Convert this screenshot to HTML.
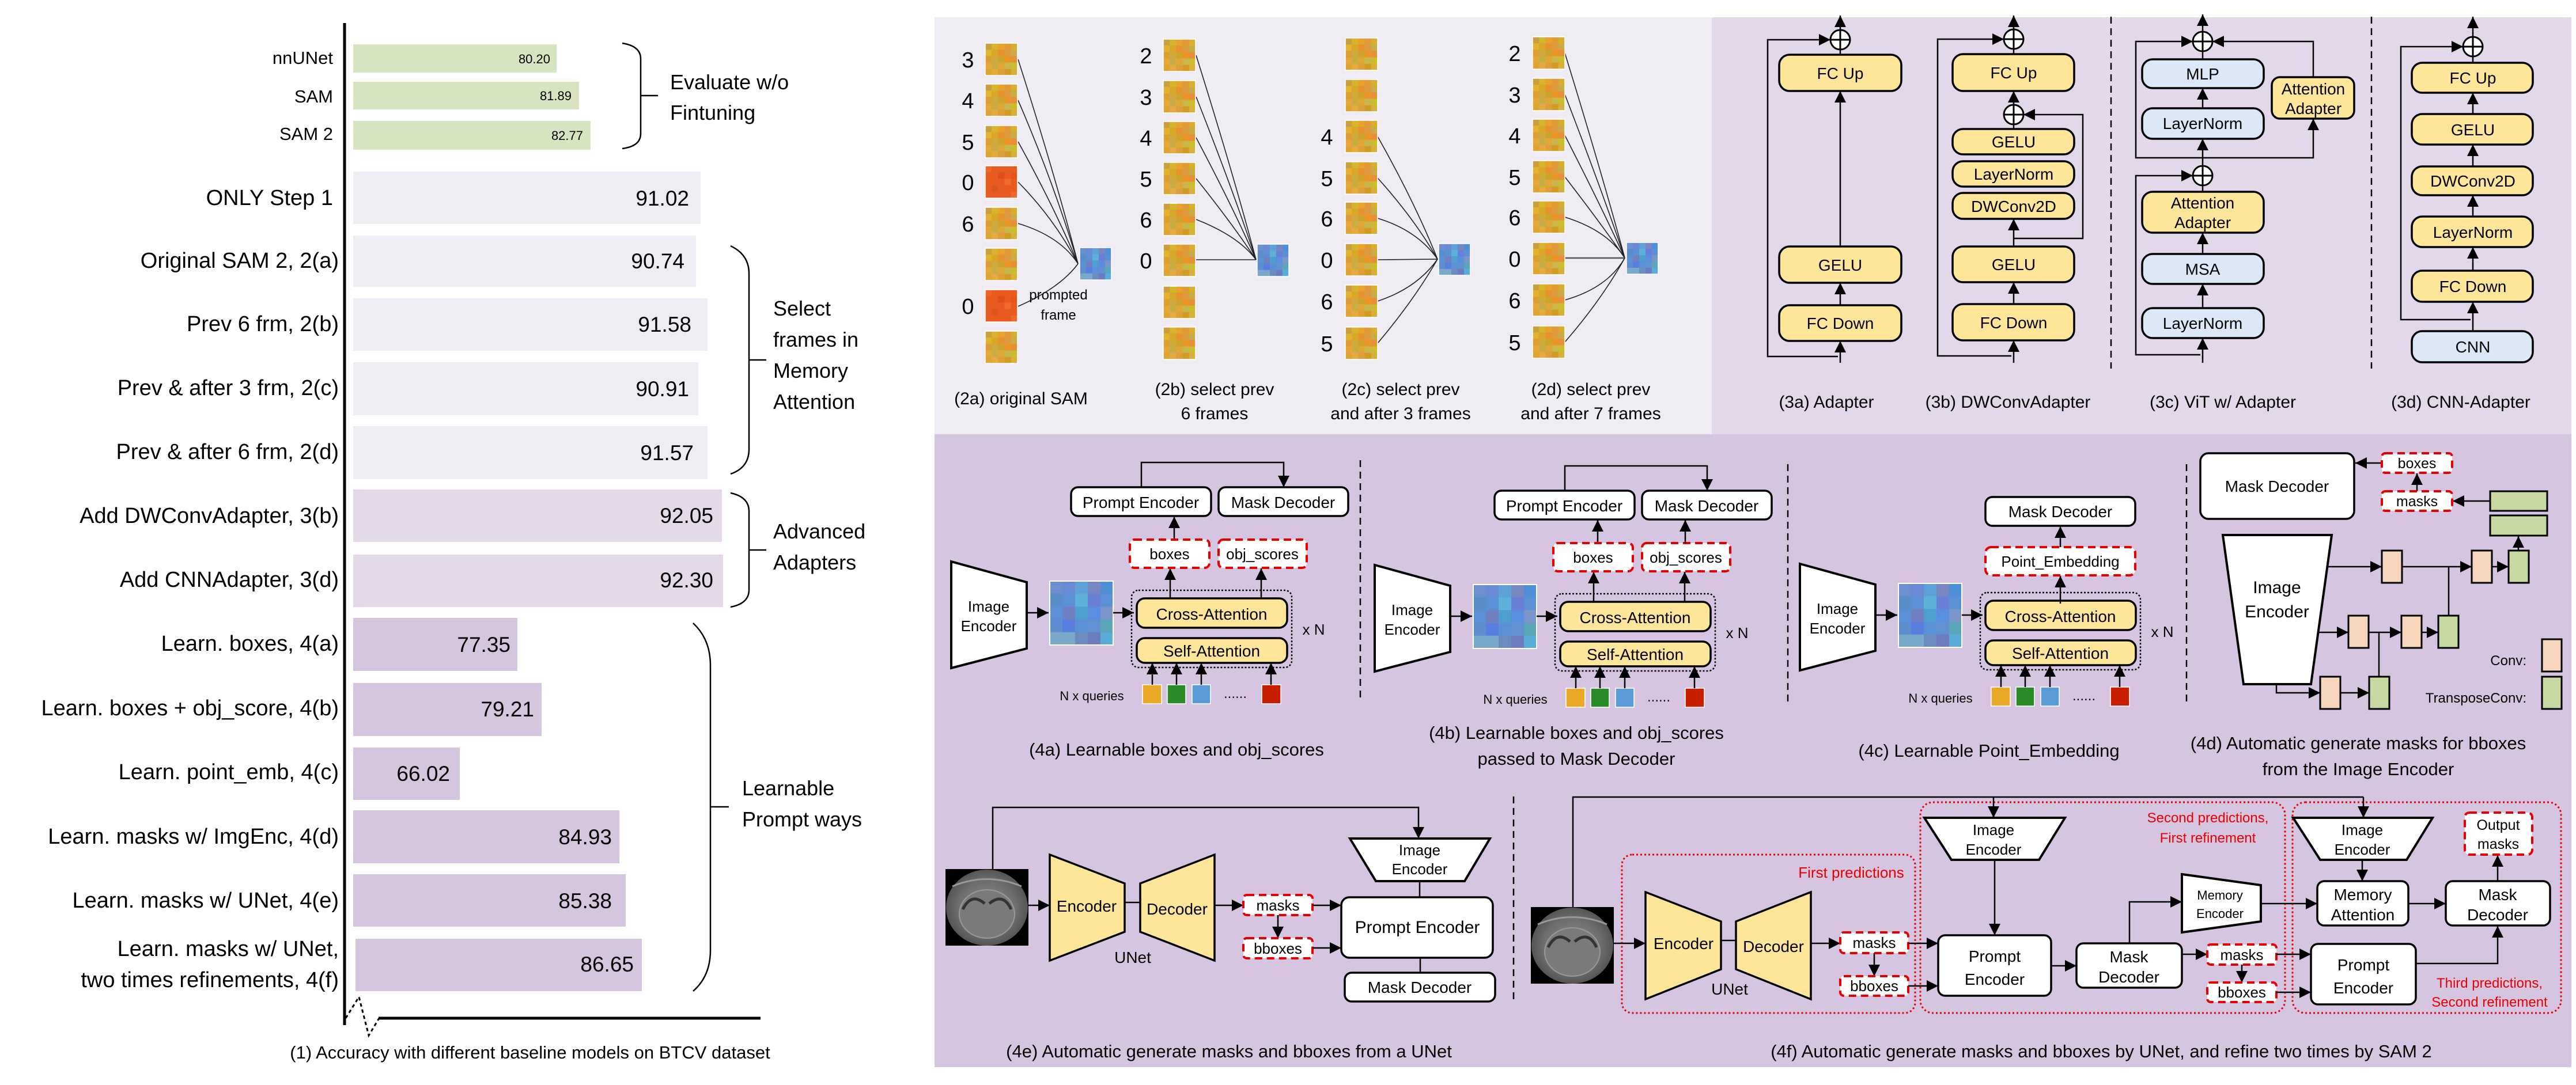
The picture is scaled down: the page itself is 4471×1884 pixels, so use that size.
<!DOCTYPE html>
<html><head><meta charset="utf-8"><style>
html,body{margin:0;padding:0;background:#fff}
svg{display:block}
text{font-family:"Liberation Sans",sans-serif;fill:#000}
.y{fill:#fde59a;stroke:#000;stroke-width:3.5}
.b{fill:#dce8f8;stroke:#000;stroke-width:3.5}
.w{fill:#fff;stroke:#000;stroke-width:3.5}
.d{fill:#fff;stroke:#e60000;stroke-width:4;stroke-dasharray:13 8}
.l{stroke:#000;stroke-width:2.5;fill:none}
.la{stroke:#000;stroke-width:2.5;fill:none;marker-end:url(#ar)}
.th{stroke:#222;stroke-width:1.6;fill:none}
.rb{fill:none;stroke:#e60000;stroke-width:3;stroke-dasharray:3 4}
.cv{fill:#f8d6bb;stroke:#000;stroke-width:3}
.tc{fill:#c7d7a1;stroke:#000;stroke-width:3}
</style></head><body>
<svg width="4471" height="1884" viewBox="0 0 4471 1884" xmlns="http://www.w3.org/2000/svg">
<defs>
<marker id="ar" markerUnits="userSpaceOnUse" markerWidth="20" markerHeight="20" viewBox="0 0 10 10" refX="10" refY="5" orient="auto"><path d="M0,0 L10,5 L0,10 z" fill="#000"/></marker>
<pattern id="or" width="1" height="1" patternContentUnits="objectBoundingBox">
<rect width="1" height="1" fill="#dfa733"/>
<rect x="0" y="0" width=".2" height=".2" fill="#c9a040"/><rect x=".2" y="0" width=".2" height=".2" fill="#d4b52c"/><rect x=".4" y="0" width=".2" height=".2" fill="#eaa22f"/><rect x=".6" y="0" width=".2" height=".2" fill="#e19a38"/><rect x=".8" y="0" width=".2" height=".2" fill="#d8ae2e"/>
<rect x="0" y=".2" width=".2" height=".2" fill="#e3b230"/><rect x=".2" y=".2" width=".2" height=".2" fill="#d9a826"/><rect x=".4" y=".2" width=".2" height=".2" fill="#e8922f"/><rect x=".6" y=".2" width=".2" height=".2" fill="#dd9a3f"/><rect x=".8" y=".2" width=".2" height=".2" fill="#c9ab48"/>
<rect x="0" y=".4" width=".2" height=".2" fill="#dc9e35"/><rect x=".2" y=".4" width=".2" height=".2" fill="#cfaa3c"/><rect x=".4" y=".4" width=".2" height=".2" fill="#cfa42c"/><rect x=".6" y=".4" width=".2" height=".2" fill="#ec9426"/><rect x=".8" y=".4" width=".2" height=".2" fill="#e6913a"/>
<rect x="0" y=".6" width=".2" height=".2" fill="#e7a737"/><rect x=".2" y=".6" width=".2" height=".2" fill="#c8ad47"/><rect x=".4" y=".6" width=".2" height=".2" fill="#dfa736"/><rect x=".6" y=".6" width=".2" height=".2" fill="#c7b74c"/><rect x=".8" y=".6" width=".2" height=".2" fill="#cbbd2b"/>
<rect x="0" y=".8" width=".2" height=".2" fill="#dda633"/><rect x=".2" y=".8" width=".2" height=".2" fill="#e6aa3e"/><rect x=".4" y=".8" width=".2" height=".2" fill="#dc9f3c"/><rect x=".6" y=".8" width=".2" height=".2" fill="#d29b23"/><rect x=".8" y=".8" width=".2" height=".2" fill="#d6b03c"/>
</pattern>
<pattern id="rd" width="1" height="1" patternContentUnits="objectBoundingBox">
<rect width="1" height="1" fill="#e85a20"/>
<rect x="0" y="0" width=".2" height=".2" fill="#ef6524"/><rect x=".4" y=".2" width=".2" height=".2" fill="#e04c1a"/><rect x=".6" y=".4" width=".2" height=".2" fill="#f06a2a"/><rect x=".2" y=".6" width=".2" height=".2" fill="#dc5520"/><rect x=".8" y=".8" width=".2" height=".2" fill="#ee6a2c"/><rect x=".8" y=".2" width=".2" height=".2" fill="#e4541c"/>
</pattern>
<pattern id="bl" width="1" height="1" patternContentUnits="objectBoundingBox">
<rect width="1" height="1" fill="#5b8fd6"/>
<rect x="0" y="0" width=".2" height=".2" fill="#6d8fd0"/><rect x=".2" y="0" width=".2" height=".2" fill="#6a8ad6"/><rect x=".4" y="0" width=".2" height=".2" fill="#5ea0d8"/><rect x=".6" y="0" width=".2" height=".2" fill="#7788c0"/><rect x=".8" y="0" width=".2" height=".2" fill="#4e8fd8"/>
<rect x="0" y=".2" width=".2" height=".2" fill="#5a8ec9"/><rect x=".4" y=".2" width=".2" height=".2" fill="#5eb0d8"/><rect x=".6" y=".2" width=".2" height=".2" fill="#6a80d8"/>
<rect x=".2" y=".4" width=".2" height=".2" fill="#7080c0"/><rect x=".4" y=".4" width=".2" height=".2" fill="#4f9ed0"/><rect x=".6" y=".4" width=".2" height=".2" fill="#5b8ee0"/><rect x=".8" y=".4" width=".2" height=".2" fill="#7b95c8"/>
<rect x="0" y=".6" width=".2" height=".2" fill="#5f8ed0"/><rect x=".2" y=".6" width=".2" height=".2" fill="#5a7ee0"/><rect x=".6" y=".6" width=".2" height=".2" fill="#6290d0"/><rect x=".8" y=".6" width=".2" height=".2" fill="#5aa6b8"/>
<rect x="0" y=".8" width=".2" height=".2" fill="#7aa8c8"/><rect x=".2" y=".8" width=".2" height=".2" fill="#7aa8c8"/><rect x=".4" y=".8" width=".2" height=".2" fill="#6c8cc0"/><rect x=".6" y=".8" width=".2" height=".2" fill="#6c7cc0"/><rect x=".8" y=".8" width=".2" height=".2" fill="#58acd8"/>
</pattern>
<radialGradient id="ct" cx=".5" cy=".5" r=".5"><stop offset="0" stop-color="#8a8a8a"/><stop offset=".7" stop-color="#6e6e6e"/><stop offset="1" stop-color="#555"/></radialGradient>
<g id="ctimg">
<rect x="0" y="0" width="144" height="133" fill="#000"/>
<ellipse cx="72" cy="67" rx="71" ry="66" fill="url(#ct)"/>
<ellipse cx="72" cy="78" rx="48" ry="42" fill="#7a7a7a" stroke="#999" stroke-width="2"/>
<path d="M30,70 Q45,40 68,60 M76,60 Q100,40 114,70" stroke="#333" stroke-width="5" fill="none"/>
<path d="M12,30 Q72,5 132,30" stroke="#999" stroke-width="3" fill="none"/>
</g>
</defs>

<!-- ============ LEFT CHART ============ -->
<rect x="613" y="77" width="353" height="49" fill="#d6e4bf"/>
<rect x="613" y="142" width="392" height="48" fill="#d6e4bf"/>
<rect x="613" y="210" width="412" height="50" fill="#d6e4bf"/>
<rect x="613" y="298" width="603" height="91" fill="#efedf4"/>
<rect x="613" y="409" width="595" height="89" fill="#efedf4"/>
<rect x="613" y="518" width="615" height="91" fill="#efedf4"/>
<rect x="613" y="629" width="599" height="92" fill="#efedf4"/>
<rect x="613" y="740" width="615" height="92" fill="#efedf4"/>
<rect x="613" y="850" width="640" height="91" fill="#e4d9e9"/>
<rect x="613" y="963" width="642" height="91" fill="#e4d9e9"/>
<rect x="613" y="1073" width="285" height="92" fill="#d5c5df"/>
<rect x="613" y="1186" width="327" height="92" fill="#d5c5df"/>
<rect x="613" y="1298" width="185" height="91" fill="#d5c5df"/>
<rect x="613" y="1407" width="462" height="92" fill="#d5c5df"/>
<rect x="613" y="1518" width="473" height="91" fill="#d5c5df"/>
<rect x="617" y="1630" width="497" height="91" fill="#d5c5df"/>

<g font-size="22" text-anchor="end">
<text x="955" y="110">80.20</text><text x="992" y="174">81.89</text><text x="1012" y="243">82.77</text>
</g>
<g font-size="37" text-anchor="end">
<text x="1196" y="357">91.02</text><text x="1188" y="466">90.74</text><text x="1200" y="576">91.58</text>
<text x="1196" y="688">90.91</text><text x="1204" y="799">91.57</text><text x="1238" y="908">92.05</text>
<text x="1238" y="1020">92.30</text><text x="886" y="1132">77.35</text><text x="927" y="1244">79.21</text>
<text x="781" y="1356">66.02</text><text x="1062" y="1466">84.93</text><text x="1062" y="1577">85.38</text>
<text x="1100" y="1687">86.65</text>
</g>
<g font-size="31" text-anchor="end">
<text x="578" y="111">nnUNet</text><text x="578" y="178">SAM</text><text x="578" y="243">SAM 2</text>
</g>
<g font-size="38" text-anchor="end">
<text x="578" y="356">ONLY Step 1</text>
<text x="588" y="465">Original SAM 2, 2(a)</text>
<text x="588" y="575">Prev 6 frm, 2(b)</text>
<text x="588" y="686">Prev &amp; after 3 frm, 2(c)</text>
<text x="588" y="797">Prev &amp; after 6 frm, 2(d)</text>
<text x="588" y="908">Add DWConvAdapter, 3(b)</text>
<text x="588" y="1019">Add CNNAdapter, 3(d)</text>
<text x="588" y="1130">Learn. boxes, 4(a)</text>
<text x="588" y="1242">Learn. boxes + obj_score, 4(b)</text>
<text x="588" y="1353">Learn. point_emb, 4(c)</text>
<text x="588" y="1465">Learn. masks w/ ImgEnc, 4(d)</text>
<text x="588" y="1576">Learn. masks w/ UNet, 4(e)</text>
<text x="588" y="1660">Learn. masks w/ UNet,</text>
<text x="588" y="1714">two times refinements, 4(f)</text>
</g>
<line x1="598" y1="40" x2="598" y2="1780" stroke="#000" stroke-width="5"/>
<line x1="657" y1="1768" x2="1320" y2="1768" stroke="#000" stroke-width="5"/>
<polyline points="600,1768 623,1731 640,1798 658,1768" fill="none" stroke="#000" stroke-width="3" stroke-dasharray="6 5"/>
<g fill="none" stroke="#000" stroke-width="2.5">
<path d="M1080,75 Q1112,80 1112,102 L1112,232 Q1112,254 1080,258 M1112,166 L1142,166"/>
<path d="M1268,427 Q1300,442 1300,475 L1300,780 Q1300,812 1268,823 M1300,625 L1330,625"/>
<path d="M1268,856 Q1300,863 1300,888 L1300,1024 Q1300,1048 1268,1054 M1300,955 L1330,955"/>
<path d="M1203,1082 Q1233,1110 1233,1155 L1233,1650 Q1233,1695 1203,1721 M1233,1401 L1265,1401"/>
</g>
<g font-size="36">
<text x="1163" y="155">Evaluate w/o</text><text x="1163" y="208">Fintuning</text>
<text x="1342" y="548">Select</text><text x="1342" y="602">frames in</text><text x="1342" y="656">Memory</text><text x="1342" y="710">Attention</text>
<text x="1342" y="935">Advanced</text><text x="1342" y="989">Adapters</text>
<text x="1288" y="1381">Learnable</text><text x="1288" y="1435">Prompt ways</text>
</g>
<text x="920" y="1838" font-size="31" text-anchor="middle">(1) Accuracy with different baseline models on BTCV dataset</text>

<!-- ============ PANEL BACKGROUNDS ============ -->
<rect x="1622" y="30" width="1350" height="724" fill="#efecf4"/>
<rect x="2971" y="30" width="1492" height="724" fill="#e3d8ea"/>
<rect x="1622" y="754" width="2841" height="1099" fill="#d6c5e0"/>

<!-- ============ PANEL 2 frames ============ -->
<g class="th">
<path d="M1767,103 Q1830,300 1871,458"/><path d="M1767,174 Q1830,320 1871,458"/><path d="M1767,246 Q1830,360 1871,458"/>
<path d="M1767,316 Q1830,380 1871,458"/><path d="M1767,388 Q1840,410 1871,458"/><path d="M1767,532 Q1840,500 1871,458"/>
<path d="M2076,96 Q2140,300 2180,451"/><path d="M2076,168 Q2140,330 2180,451"/><path d="M2076,239 Q2140,360 2180,451"/>
<path d="M2076,310 Q2140,390 2180,451"/><path d="M2076,381 Q2150,410 2180,451"/><path d="M2076,451 L2180,451"/>
<path d="M2391,237 Q2455,350 2495,450"/><path d="M2391,309 Q2455,380 2495,450"/><path d="M2391,379 Q2460,400 2495,450"/>
<path d="M2391,451 L2495,450"/><path d="M2391,523 Q2460,500 2495,450"/><path d="M2391,596 Q2455,520 2495,450"/>
<path d="M2716,92 Q2780,300 2820,448"/><path d="M2716,164 Q2780,330 2820,448"/><path d="M2716,235 Q2780,360 2820,448"/>
<path d="M2716,307 Q2780,390 2820,448"/><path d="M2716,377 Q2790,400 2820,448"/><path d="M2716,448 L2820,448" stroke-width="2.5" stroke="#555"/>
<path d="M2716,521 Q2790,500 2820,448"/><path d="M2716,594 Q2780,520 2820,448"/>
</g>
<g stroke="#fff" stroke-width="1.5">
<rect x="1710" y="75" width="56" height="56" fill="url(#or)"/><rect x="1710" y="146" width="56" height="56" fill="url(#or)"/>
<rect x="1710" y="218" width="56" height="56" fill="url(#or)"/><rect x="1710" y="288" width="56" height="56" fill="url(#rd)"/>
<rect x="1710" y="360" width="56" height="56" fill="url(#or)"/><rect x="1710" y="431" width="56" height="56" fill="url(#or)"/>
<rect x="1710" y="503" width="56" height="56" fill="url(#rd)"/><rect x="1710" y="575" width="56" height="56" fill="url(#or)"/>
<rect x="1874" y="430" width="55" height="56" fill="url(#bl)"/>
<rect x="2019" y="68" width="56" height="56" fill="url(#or)"/><rect x="2019" y="140" width="56" height="56" fill="url(#or)"/>
<rect x="2019" y="211" width="56" height="56" fill="url(#or)"/><rect x="2019" y="282" width="56" height="56" fill="url(#or)"/>
<rect x="2019" y="353" width="56" height="56" fill="url(#or)"/><rect x="2019" y="424" width="56" height="56" fill="url(#or)"/>
<rect x="2019" y="497" width="56" height="56" fill="url(#or)"/><rect x="2019" y="568" width="56" height="56" fill="url(#or)"/>
<rect x="2182" y="424" width="55" height="56" fill="url(#bl)"/>
<rect x="2335" y="66" width="56" height="56" fill="url(#or)"/><rect x="2335" y="138" width="56" height="56" fill="url(#or)"/>
<rect x="2335" y="209" width="56" height="56" fill="url(#or)"/><rect x="2335" y="281" width="56" height="56" fill="url(#or)"/>
<rect x="2335" y="351" width="56" height="56" fill="url(#or)"/><rect x="2335" y="423" width="56" height="56" fill="url(#or)"/>
<rect x="2335" y="495" width="56" height="56" fill="url(#or)"/><rect x="2335" y="568" width="56" height="56" fill="url(#or)"/>
<rect x="2497" y="423" width="55" height="55" fill="url(#bl)"/>
<rect x="2660" y="64" width="56" height="56" fill="url(#or)"/><rect x="2660" y="136" width="56" height="56" fill="url(#or)"/>
<rect x="2660" y="207" width="56" height="56" fill="url(#or)"/><rect x="2660" y="279" width="56" height="56" fill="url(#or)"/>
<rect x="2660" y="349" width="56" height="56" fill="url(#or)"/><rect x="2660" y="421" width="56" height="56" fill="url(#or)"/>
<rect x="2660" y="493" width="56" height="56" fill="url(#or)"/><rect x="2660" y="566" width="56" height="56" fill="url(#or)"/>
<rect x="2823" y="421" width="55" height="55" fill="url(#bl)"/>
</g>
<g font-size="38" text-anchor="middle">
<text x="1680" y="117">3</text><text x="1680" y="188">4</text><text x="1680" y="260">5</text><text x="1680" y="330">0</text><text x="1680" y="402">6</text><text x="1680" y="545">0</text>
<text x="1989" y="110">2</text><text x="1989" y="182">3</text><text x="1989" y="253">4</text><text x="1989" y="324">5</text><text x="1989" y="395">6</text><text x="1989" y="466">0</text>
<text x="2303" y="251">4</text><text x="2303" y="323">5</text><text x="2303" y="393">6</text><text x="2303" y="465">0</text><text x="2303" y="537">6</text><text x="2303" y="610">5</text>
<text x="2629" y="106">2</text><text x="2629" y="178">3</text><text x="2629" y="249">4</text><text x="2629" y="321">5</text><text x="2629" y="391">6</text><text x="2629" y="463">0</text><text x="2629" y="535">6</text><text x="2629" y="608">5</text>
</g>
<g font-size="24" text-anchor="middle"><text x="1837" y="520">prompted</text><text x="1837" y="555">frame</text></g>
<g font-size="30" text-anchor="middle">
<text x="1772" y="702">(2a) original SAM</text>
<text x="2108" y="686">(2b) select prev</text><text x="2108" y="728">6 frames</text>
<text x="2431" y="686">(2c) select prev</text><text x="2431" y="728">and after 3 frames</text>
<text x="2761" y="686">(2d) select prev</text><text x="2761" y="728">and after 7 frames</text>
</g>

<!-- ============ PANEL 3 adapters ============ -->
<g class="l" stroke-dasharray="12 8"><line x1="3664" y1="29" x2="3664" y2="640"/><line x1="4116" y1="29" x2="4116" y2="640"/></g>
<g>
<path class="la" d="M3194,52 L3194,27"/>
<path class="la" d="M3194,630 L3194,592"/>
<path class="la" d="M3194,530 L3194,491"/>
<path class="la" d="M3194,428 L3194,158"/>
<path class="l" d="M3194,95 L3194,86"/>
<path class="la" d="M3190,619 L3068,619 L3068,69 L3177,69"/>
<rect class="y" x="3088" y="95" width="212" height="63" rx="18"/>
<rect class="y" x="3088" y="428" width="212" height="63" rx="18"/>
<rect class="y" x="3088" y="530" width="212" height="62" rx="18"/>
<circle cx="3194" cy="69" r="17" fill="#fff" stroke="#000" stroke-width="3"/><path d="M3194,53V85M3178,69H3210" stroke="#000" stroke-width="3"/>
</g>
<g>
<path class="la" d="M3495,51 L3495,27"/>
<path class="la" d="M3495,630 L3495,591"/>
<path class="la" d="M3495,528 L3495,490"/>
<path class="la" d="M3495,428 L3495,380"/>
<path class="la" d="M3495,216 L3495,158"/>
<path class="l" d="M3495,94 L3495,85 M3495,224 L3495,216"/>
<path class="la" d="M3491,618 L3363,618 L3363,68 L3478,68"/>
<path class="la" d="M3495,414 L3615,414 L3615,199 L3512,199"/>
<rect class="y" x="3389" y="94" width="211" height="64" rx="18"/>
<rect class="y" x="3389" y="224" width="211" height="44" rx="18"/>
<rect class="y" x="3389" y="280" width="211" height="44" rx="18"/>
<rect class="y" x="3389" y="335" width="211" height="45" rx="18"/>
<rect class="y" x="3389" y="428" width="211" height="62" rx="18"/>
<rect class="y" x="3389" y="528" width="211" height="63" rx="18"/>
<circle cx="3495" cy="68" r="17" fill="#fff" stroke="#000" stroke-width="3"/><path d="M3495,52V84M3479,68H3511" stroke="#000" stroke-width="3"/>
<circle cx="3495" cy="199" r="17" fill="#fff" stroke="#000" stroke-width="3"/><path d="M3495,183V215M3479,199H3511" stroke="#000" stroke-width="3"/>
</g>
<g>
<path class="la" d="M3823,55 L3823,25"/>
<path class="la" d="M3823,630 L3823,587"/>
<path class="la" d="M3823,535 L3823,493"/>
<path class="la" d="M3823,441 L3823,404"/>
<path class="l" d="M3823,333 L3823,322"/>
<path class="la" d="M3823,288 L3823,241"/>
<path class="la" d="M3823,188 L3823,153"/>
<path class="l" d="M3823,103 L3823,89"/>
<path class="la" d="M3819,616 L3707,616 L3707,305 L3806,305"/>
<path class="la" d="M3823,274 L3707,274 L3707,72 L3806,72"/>
<path class="la" d="M3823,274 L4015,274 L4015,206"/>
<path class="la" d="M4015,134 L4015,72 L3840,72"/>
<rect class="b" x="3718" y="103" width="211" height="50" rx="18"/>
<rect class="b" x="3718" y="188" width="211" height="53" rx="18"/>
<rect class="y" x="3943" y="134" width="143" height="72" rx="14"/>
<rect class="y" x="3718" y="333" width="211" height="71" rx="18"/>
<rect class="b" x="3718" y="441" width="211" height="52" rx="18"/>
<rect class="b" x="3718" y="535" width="211" height="52" rx="18"/>
<circle cx="3823" cy="72" r="17" fill="#fff" stroke="#000" stroke-width="3"/><path d="M3823,56V88M3807,72H3839" stroke="#000" stroke-width="3"/>
<circle cx="3823" cy="305" r="17" fill="#fff" stroke="#000" stroke-width="3"/><path d="M3823,289V321M3807,305H3839" stroke="#000" stroke-width="3"/>
</g>
<g>
<path class="la" d="M4292,64 L4292,29"/>
<path class="la" d="M4292,575 L4292,524"/>
<path class="la" d="M4292,470 L4292,429"/>
<path class="la" d="M4292,376 L4292,339"/>
<path class="la" d="M4292,289 L4292,251"/>
<path class="la" d="M4292,198 L4292,161"/>
<path class="l" d="M4292,109 L4292,98"/>
<path class="la" d="M4288,555 L4167,555 L4167,81 L4275,81"/>
<rect class="y" x="4186" y="109" width="210" height="52" rx="18"/>
<rect class="y" x="4186" y="198" width="210" height="53" rx="18"/>
<rect class="y" x="4186" y="289" width="210" height="50" rx="18"/>
<rect class="y" x="4186" y="376" width="210" height="53" rx="18"/>
<rect class="y" x="4186" y="470" width="210" height="54" rx="18"/>
<rect class="b" x="4186" y="575" width="210" height="54" rx="18"/>
<circle cx="4292" cy="81" r="17" fill="#fff" stroke="#000" stroke-width="3"/><path d="M4292,65V97M4276,81H4308" stroke="#000" stroke-width="3"/>
</g>
<g font-size="28" text-anchor="middle">
<text x="3194" y="137">FC Up</text><text x="3194" y="470">GELU</text><text x="3194" y="571">FC Down</text>
<text x="3495" y="136">FC Up</text><text x="3495" y="256">GELU</text><text x="3495" y="312">LayerNorm</text><text x="3495" y="368">DWConv2D</text><text x="3495" y="469">GELU</text><text x="3495" y="570">FC Down</text>
<text x="3823" y="138">MLP</text><text x="3823" y="224">LayerNorm</text><text x="3823" y="477">MSA</text><text x="3823" y="571">LayerNorm</text>
<text x="3823" y="362">Attention</text><text x="3823" y="396">Adapter</text>
<text x="4015" y="164">Attention</text><text x="4015" y="198">Adapter</text>
<text x="4292" y="145">FC Up</text><text x="4292" y="235">GELU</text><text x="4292" y="324">DWConv2D</text><text x="4292" y="413">LayerNorm</text><text x="4292" y="507">FC Down</text><text x="4292" y="612">CNN</text>
</g>
<g font-size="30" text-anchor="middle">
<text x="3170" y="708">(3a) Adapter</text><text x="3485" y="708">(3b) DWConvAdapter</text><text x="3858" y="708">(3c) ViT w/ Adapter</text><text x="4271" y="708">(3d) CNN-Adapter</text>
</g>

<!-- ============ PANEL 4 top ============ -->
<g class="l" stroke-dasharray="12 8"><line x1="2361" y1="799" x2="2361" y2="1214"/><line x1="3103" y1="806" x2="3103" y2="1222"/><line x1="3795" y1="806" x2="3795" y2="1222"/></g>
<g id="core">
<polygon points="1651,975 1782,1011 1782,1126 1651,1160" fill="#fff" stroke="#000" stroke-width="4"/>
<text x="1716" y="1062" font-size="26" text-anchor="middle">Image</text>
<text x="1716" y="1096" font-size="26" text-anchor="middle">Encoder</text>
<path class="la" d="M1782,1064 L1820,1064"/>
<rect x="1822" y="1009" width="110" height="111" fill="url(#bl)" stroke="#fff" stroke-width="2"/>
<path class="la" d="M1932,1064 L1968,1064"/>
<rect x="1964" y="1025" width="278" height="134" rx="12" fill="none" stroke="#000" stroke-width="2.5" stroke-dasharray="3 3"/>
<rect class="y" x="1973" y="1039" width="261" height="51" rx="14"/>
<rect class="y" x="1973" y="1108" width="261" height="43" rx="14"/>
<text x="2103" y="1076" font-size="28" text-anchor="middle">Cross-Attention</text>
<text x="2103" y="1140" font-size="28" text-anchor="middle">Self-Attention</text>
<text x="2280" y="1102" font-size="26" text-anchor="middle">x N</text>
<text x="1895" y="1216" font-size="22" text-anchor="middle">N x queries</text>
<rect x="1983" y="1189" width="33" height="33" fill="#e9a825" stroke="#fff" stroke-width="1.5"/>
<rect x="2026" y="1189" width="32" height="33" fill="#2a8a2a" stroke="#fff" stroke-width="1.5"/>
<rect x="2069" y="1189" width="32" height="33" fill="#5b9bd5" stroke="#fff" stroke-width="1.5"/>
<text x="2144" y="1212" font-size="24" text-anchor="middle">......</text>
<rect x="2190" y="1189" width="33" height="33" fill="#c81e00" stroke="#fff" stroke-width="1.5"/>
<path class="la" d="M2000,1189 L2000,1151"/><path class="la" d="M2042,1189 L2042,1151"/><path class="la" d="M2085,1189 L2085,1151"/><path class="la" d="M2206,1189 L2206,1151"/>
</g>
<g id="top4a">
<path class="la" d="M2031,1039 L2031,987"/><path class="la" d="M2189,1039 L2189,987"/>
<path class="la" d="M2038,937 L2038,897"/>
<path class="la" d="M1981,846 L1981,803 L2228,803 L2228,846"/>
<rect class="d" x="1961" y="937" width="138" height="49" rx="8"/>
<rect class="d" x="2115" y="937" width="153" height="49" rx="8"/>
<rect class="w" x="1859" y="846" width="243" height="50" rx="12"/>
<rect class="w" x="2115" y="846" width="225" height="50" rx="12"/>
<text x="2030" y="971" font-size="26" text-anchor="middle">boxes</text>
<text x="2191" y="971" font-size="26" text-anchor="middle">obj_scores</text>
<text x="1980" y="882" font-size="28" text-anchor="middle">Prompt Encoder</text>
<text x="2227" y="882" font-size="28" text-anchor="middle">Mask Decoder</text>
</g>
<use href="#core" transform="translate(735,6)"/>
<use href="#top4a" transform="translate(735,6)"/>
<path class="la" d="M2925,943 L2925,903"/>
<use href="#core" transform="translate(1473,4)"/>
<path class="la" d="M3576,1048 L3576,1000"/>
<path class="la" d="M3576,950 L3576,914"/>
<rect class="d" x="3446" y="950" width="260" height="49" rx="10"/>
<rect class="w" x="3446" y="863" width="260" height="50" rx="12"/>
<text x="3576" y="984" font-size="26" text-anchor="middle">Point_Embedding</text>
<text x="3576" y="898" font-size="28" text-anchor="middle">Mask Decoder</text>
<g font-size="31" text-anchor="middle">
<text x="2042" y="1312">(4a) Learnable boxes and obj_scores</text>
<text x="2736" y="1283">(4b) Learnable boxes and obj_scores</text><text x="2736" y="1328">passed to Mask Decoder</text>
<text x="3452" y="1314">(4c) Learnable Point_Embedding</text>
<text x="4093" y="1301">(4d) Automatic generate masks for bboxes</text><text x="4093" y="1346">from the Image Encoder</text>
</g>

<rect class="w" x="3819" y="787" width="267" height="114" rx="14"/>
<text x="3952" y="854" font-size="28" text-anchor="middle">Mask Decoder</text>
<path class="la" d="M4134,804 L4088,804"/>
<path class="la" d="M4195,853 L4195,822"/>
<path class="la" d="M4322,870 L4257,870"/>
<rect class="d" x="4134" y="787" width="122" height="34" rx="6"/>
<rect class="d" x="4134" y="853" width="122" height="34" rx="6"/>
<text x="4195" y="813" font-size="25" text-anchor="middle">boxes</text>
<text x="4195" y="879" font-size="25" text-anchor="middle">masks</text>
<rect class="tc" x="4322" y="853" width="99" height="34"/>
<rect class="tc" x="4322" y="895" width="99" height="35"/>
<polygon points="3858,929 4047,929 4011,1188 3894,1188" fill="#fff" stroke="#000" stroke-width="4"/>
<text x="3952" y="1030" font-size="30" text-anchor="middle">Image</text>
<text x="3952" y="1072" font-size="30" text-anchor="middle">Encoder</text>
<path class="la" d="M4040,984 L4134,984"/><path class="la" d="M4169,984 L4290,984"/><path class="la" d="M4325,984 L4354,984"/>
<path class="la" d="M4371,956 L4371,931"/>
<path class="l" d="M4250,1069 L4250,984"/>
<path class="la" d="M4023,1098 L4076,1098"/><path class="la" d="M4111,1098 L4168,1098"/><path class="la" d="M4203,1098 L4232,1098"/>
<path class="l" d="M4129,1175 L4129,1098"/>
<path class="la" d="M3951,1188 L3951,1203 L4027,1203"/><path class="la" d="M4062,1203 L4112,1203"/>
<rect class="cv" x="4134" y="956" width="35" height="56"/><rect class="cv" x="4290" y="956" width="35" height="56"/><rect class="tc" x="4354" y="956" width="35" height="56"/>
<rect class="cv" x="4076" y="1069" width="35" height="56"/><rect class="cv" x="4168" y="1069" width="35" height="56"/><rect class="tc" x="4232" y="1069" width="35" height="56"/>
<rect class="cv" x="4027" y="1175" width="35" height="56"/><rect class="tc" x="4112" y="1175" width="35" height="56"/>
<rect class="cv" x="4412" y="1110" width="34" height="56"/><rect class="tc" x="4412" y="1175" width="34" height="56"/>
<text x="4385" y="1155" font-size="24" text-anchor="end">Conv:</text>
<text x="4385" y="1220" font-size="24" text-anchor="end">TransposeConv:</text>

<!-- ============ 4e ============ -->
<line class="l" x1="2627" y1="1383" x2="2627" y2="1736" stroke-dasharray="12 8"/>
<use href="#ctimg" transform="translate(1641,1509)"/>
<path class="la" d="M1723,1509 L1723,1402 L2462,1402 L2462,1456"/>
<path class="la" d="M1785,1572 L1822,1572"/>
<polygon points="1822,1484 1952,1534 1952,1618 1822,1668" class="y" stroke-width="4"/>
<polygon points="1979,1534 2108,1484 2108,1668 1979,1618" class="y" stroke-width="4"/>
<path class="l" d="M1952,1567 L1979,1567"/>
<text x="1886" y="1583" font-size="28" text-anchor="middle">Encoder</text>
<text x="2043" y="1588" font-size="28" text-anchor="middle">Decoder</text>
<text x="1966" y="1672" font-size="28" text-anchor="middle">UNet</text>
<path class="la" d="M2108,1572 L2158,1572"/>
<path class="la" d="M2218,1589 L2218,1629"/>
<rect class="d" x="2158" y="1554" width="120" height="35" rx="6"/>
<rect class="d" x="2158" y="1629" width="120" height="35" rx="6"/>
<text x="2218" y="1581" font-size="26" text-anchor="middle">masks</text>
<text x="2218" y="1656" font-size="26" text-anchor="middle">bboxes</text>
<path class="la" d="M2278,1572 L2328,1572"/><path class="la" d="M2278,1646 L2328,1646"/>
<polygon points="2343,1456 2586,1456 2542,1530 2388,1530" fill="#fff" stroke="#000" stroke-width="4"/>
<text x="2464" y="1485" font-size="26" text-anchor="middle">Image</text>
<text x="2464" y="1518" font-size="26" text-anchor="middle">Encoder</text>
<path class="l" d="M2464,1530 L2464,1558 M2465,1663 L2465,1689"/>
<rect class="w" x="2328" y="1558" width="263" height="105" rx="14"/>
<text x="2460" y="1620" font-size="30" text-anchor="middle">Prompt Encoder</text>
<rect class="w" x="2334" y="1689" width="261" height="50" rx="12"/>
<text x="2464" y="1724" font-size="28" text-anchor="middle">Mask Decoder</text>
<text x="2133" y="1836" font-size="31" text-anchor="middle">(4e) Automatic generate masks and bboxes from a UNet</text>

<!-- ============ 4f ============ -->
<rect class="rb" x="2815" y="1484" width="509" height="275" rx="18"/>
<rect class="rb" x="3333" y="1393" width="633" height="366" rx="22"/>
<rect class="rb" x="3979" y="1393" width="466" height="366" rx="22"/>
<use href="#ctimg" transform="translate(2657,1575)"/>
<path class="l" d="M2730,1575 L2730,1384 L4102,1384"/>
<path class="la" d="M3460,1384 L3460,1420"/><path class="la" d="M4102,1384 L4102,1420"/>
<path class="la" d="M2801,1638 L2856,1638"/>
<polygon points="2856,1549 2987,1600 2987,1683 2856,1735" class="y" stroke-width="4"/>
<polygon points="3013,1600 3143,1549 3143,1735 3013,1683" class="y" stroke-width="4"/>
<path class="l" d="M2987,1633 L3013,1633"/>
<text x="2922" y="1648" font-size="28" text-anchor="middle">Encoder</text>
<text x="3078" y="1653" font-size="28" text-anchor="middle">Decoder</text>
<text x="3002" y="1727" font-size="28" text-anchor="middle">UNet</text>
<text x="3213" y="1524" font-size="26" style="fill:#e60000" text-anchor="middle">First predictions</text>
<path class="la" d="M3143,1638 L3194,1638"/>
<path class="la" d="M3253,1655 L3253,1695"/>
<rect class="d" x="3194" y="1619" width="118" height="36" rx="6"/>
<rect class="d" x="3194" y="1695" width="118" height="34" rx="6"/>
<text x="3253" y="1646" font-size="26" text-anchor="middle">masks</text>
<text x="3253" y="1721" font-size="26" text-anchor="middle">bboxes</text>
<path class="la" d="M3312,1638 L3364,1638"/><path class="la" d="M3312,1712 L3364,1712"/>
<polygon points="3340,1420 3584,1420 3539,1493 3387,1493" fill="#fff" stroke="#000" stroke-width="4"/>
<text x="3460" y="1450" font-size="26" text-anchor="middle">Image</text>
<text x="3460" y="1484" font-size="26" text-anchor="middle">Encoder</text>
<path class="la" d="M3462,1493 L3462,1624"/>
<rect class="w" x="3364" y="1624" width="196" height="105" rx="12"/>
<text x="3462" y="1670" font-size="28" text-anchor="middle">Prompt</text>
<text x="3462" y="1710" font-size="28" text-anchor="middle">Encoder</text>
<path class="la" d="M3560,1677 L3604,1677"/>
<rect class="w" x="3604" y="1638" width="183" height="77" rx="12"/>
<text x="3695" y="1671" font-size="28" text-anchor="middle">Mask</text>
<text x="3695" y="1706" font-size="28" text-anchor="middle">Decoder</text>
<path class="la" d="M3696,1638 L3696,1566 L3787,1566"/>
<polygon points="3787,1518 3924,1537 3924,1600 3787,1619" fill="#fff" stroke="#000" stroke-width="4"/>
<text x="3853" y="1562" font-size="22" text-anchor="middle">Memory</text>
<text x="3853" y="1594" font-size="22" text-anchor="middle">Encoder</text>
<path class="la" d="M3787,1657 L3831,1657"/>
<path class="la" d="M3891,1675 L3891,1706"/>
<rect class="d" x="3831" y="1640" width="120" height="35" rx="6"/>
<rect class="d" x="3831" y="1706" width="120" height="34" rx="6"/>
<text x="3891" y="1667" font-size="26" text-anchor="middle">masks</text>
<text x="3891" y="1732" font-size="26" text-anchor="middle">bboxes</text>
<g font-size="24" text-anchor="middle">
<text x="3832" y="1428" style="fill:#e60000">Second predictions,</text><text x="3832" y="1463" style="fill:#e60000">First refinement</text>
<text x="4321" y="1715" style="fill:#e60000">Third predictions,</text><text x="4321" y="1748" style="fill:#e60000">Second refinement</text>
</g>
<path class="la" d="M3924,1569 L4022,1569"/>
<path class="la" d="M3951,1657 L4011,1657"/><path class="la" d="M3951,1723 L4011,1723"/>
<polygon points="3980,1420 4222,1420 4177,1493 4027,1493" fill="#fff" stroke="#000" stroke-width="4"/>
<text x="4100" y="1450" font-size="26" text-anchor="middle">Image</text>
<text x="4100" y="1484" font-size="26" text-anchor="middle">Encoder</text>
<path class="la" d="M4100,1493 L4100,1530"/>
<rect class="w" x="4022" y="1530" width="158" height="77" rx="12"/>
<text x="4101" y="1563" font-size="28" text-anchor="middle">Memory</text>
<text x="4101" y="1598" font-size="28" text-anchor="middle">Attention</text>
<path class="la" d="M4180,1569 L4245,1569"/>
<rect class="w" x="4245" y="1530" width="181" height="77" rx="12"/>
<text x="4335" y="1563" font-size="28" text-anchor="middle">Mask</text>
<text x="4335" y="1598" font-size="28" text-anchor="middle">Decoder</text>
<path class="la" d="M4335,1530 L4335,1485"/>
<rect class="d" x="4278" y="1411" width="117" height="73" rx="8"/>
<text x="4336" y="1441" font-size="25" text-anchor="middle">Output</text>
<text x="4336" y="1474" font-size="25" text-anchor="middle">masks</text>
<rect class="w" x="4011" y="1639" width="182" height="105" rx="12"/>
<text x="4102" y="1685" font-size="28" text-anchor="middle">Prompt</text>
<text x="4102" y="1725" font-size="28" text-anchor="middle">Encoder</text>
<path class="la" d="M4193,1673 L4335,1673 L4335,1608"/>
<text x="3647" y="1836" font-size="31" text-anchor="middle">(4f) Automatic generate masks and bboxes by UNet, and refine two times by SAM 2</text>
</svg>
</body></html>
